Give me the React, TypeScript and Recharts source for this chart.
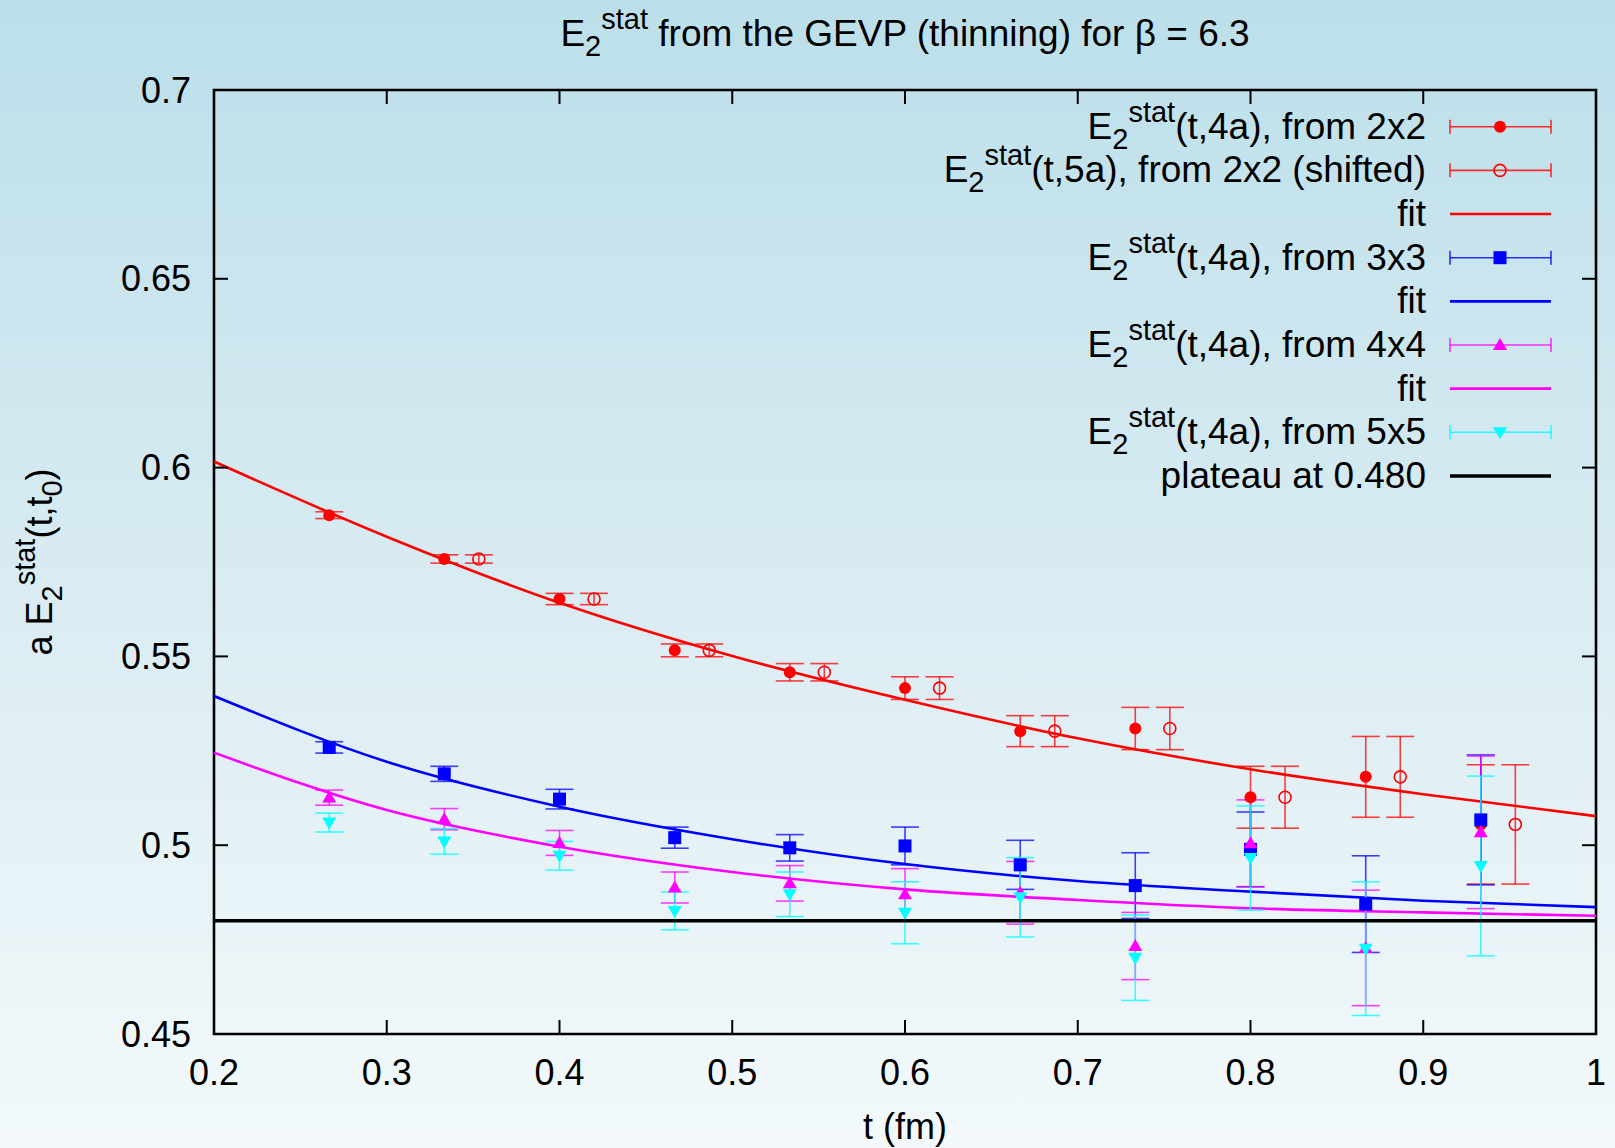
import React from "react";
import { ComposedChart, Scatter, Line, XAxis, YAxis, ErrorBar, ReferenceLine, ReferenceArea } from "recharts";

// t values (fm) for t = 4a ... 14a
const T = [0.2667, 0.3333, 0.4, 0.4667, 0.5333, 0.6, 0.6667, 0.7333, 0.8, 0.8667, 0.9333];

const E_2X2 = [0.5874, 0.5758, 0.5652, 0.5516, 0.5458, 0.5416, 0.5302, 0.5309, 0.5127, 0.5181, 0.5055];
const E_2X2_ERR = [0.0009, 0.0011, 0.0015, 0.0017, 0.0023, 0.003, 0.0041, 0.0056, 0.0082, 0.0107, 0.0158];

// t0 = 5a, drawn shifted by 0.02 fm
const T_SHIFT = [0.3533, 0.42, 0.4867, 0.5533, 0.62, 0.6867, 0.7533, 0.82, 0.8867, 0.9533];
const E_2X2_5A = [0.5758, 0.5652, 0.5516, 0.5458, 0.5416, 0.5302, 0.5309, 0.5127, 0.5181, 0.5055];
const E_2X2_5A_ERR = [0.0011, 0.0015, 0.0017, 0.0023, 0.003, 0.0041, 0.0056, 0.0082, 0.0107, 0.0158];

const E_3X3 = [0.5259, 0.5189, 0.5122, 0.502, 0.4993, 0.4998, 0.4948, 0.4893, 0.4989, 0.4844, 0.5067];
const E_3X3_ERR = [0.0015, 0.002, 0.0026, 0.0028, 0.0035, 0.005, 0.0065, 0.0087, 0.0099, 0.0128, 0.0172];

const E_4X4 = [0.5126, 0.5069, 0.5006, 0.4888, 0.4899, 0.487, 0.4874, 0.4733, 0.5005, 0.4728, 0.5034];
const E_4X4_ERR = [0.002, 0.0028, 0.0033, 0.0041, 0.0047, 0.0068, 0.0083, 0.0089, 0.0115, 0.0153, 0.0202];

const E_5X5 = [0.506, 0.501, 0.4972, 0.4826, 0.487, 0.4821, 0.4862, 0.4702, 0.4966, 0.4726, 0.4945];
const E_5X5_ERR = [0.0025, 0.0034, 0.0038, 0.005, 0.0059, 0.0082, 0.0105, 0.0113, 0.0138, 0.0177, 0.0238];

// fit curves, read at every 0.1 fm
const FIT_T = [0.2, 0.3, 0.4, 0.5, 0.6, 0.7, 0.8, 0.9, 1.0];
const FIT_2X2 = [0.6016, 0.5817, 0.5642, 0.5501, 0.5385, 0.5283, 0.5201, 0.5135, 0.5077];
const FIT_3X3 = [0.5395, 0.5221, 0.5102, 0.5016, 0.495, 0.4905, 0.4877, 0.4853, 0.4836];
const FIT_4X4 = [0.5245, 0.5093, 0.4996, 0.4929, 0.4883, 0.4855, 0.4833, 0.4822, 0.4813];

const PLATEAU = 0.48;

const X_TICKS = [0.2, 0.3, 0.4, 0.5, 0.6, 0.7, 0.8, 0.9, 1];
const Y_TICKS = [0.45, 0.5, 0.55, 0.6, 0.65, 0.7];

const W = 1615;
const H = 1148;
const LEFT = 214;
const RIGHT = 1596;
const TOP = 90;
const BOTTOM = 1034;
const YAXIS_W = 100;
const XAXIS_H = 60;
const FONT = "'Liberation Sans', Arial, Helvetica, sans-serif";

const pts = (ts: number[], vs: number[], es: number[]) => ts.map((t, i) => ({ t, v: vs[i], e: es[i] }));
const curve = (ts: number[], vs: number[]) => ts.map((t, i) => ({ t, v: vs[i] }));

const Dot = ({ cx, cy, color, open }: any) => (
  <circle cx={cx} cy={cy} r={6} fill={open ? "none" : color} stroke={color} strokeWidth={open ? 1.6 : 0} />
);
const Square = ({ cx, cy, color }: any) => <rect x={cx - 6.5} y={cy - 6.5} width={13} height={13} fill={color} />;
const TriUp = ({ cx, cy, color }: any) => (
  <polygon points={`${cx},${cy - 7} ${cx - 7},${cy + 5} ${cx + 7},${cy + 5}`} fill={color} />
);
const TriDown = ({ cx, cy, color }: any) => (
  <polygon points={`${cx},${cy + 7} ${cx - 7},${cy - 5} ${cx + 7},${cy - 5}`} fill={color} />
);

function XTick(props: any) {
  const { x, payload } = props;
  return (
    <g>
      <line x1={x} x2={x} y1={BOTTOM} y2={BOTTOM - 14} stroke="#000" strokeWidth={2} />
      <line x1={x} x2={x} y1={TOP} y2={TOP + 14} stroke="#000" strokeWidth={2} />
      <text x={x} y={1085} textAnchor="middle" fontSize={36} fontFamily={FONT} fill="#000">
        {String(payload.value)}
      </text>
    </g>
  );
}

function YTick(props: any) {
  const { y, payload } = props;
  return (
    <g>
      <line x1={LEFT} x2={LEFT + 14} y1={y} y2={y} stroke="#000" strokeWidth={2} />
      <line x1={RIGHT} x2={RIGHT - 14} y1={y} y2={y} stroke="#000" strokeWidth={2} />
      <text x={191} y={y + 12.5} textAnchor="end" fontSize={36} fontFamily={FONT} fill="#000">
        {String(payload.value)}
      </text>
    </g>
  );
}

// E_2^{stat} followed by the rest of a label
const Estat = ({ rest }: { rest: string }) => (
  <>
    E
    <tspan dy={10} fontSize={29}>2</tspan>
    <tspan dy={-27} fontSize={29}>stat</tspan>
    <tspan dy={17}>{rest}</tspan>
  </>
);

const LEGEND = [
  { label: <Estat rest="(t,4a), from 2x2" />, color: "#ff0000", kind: "dot" },
  { label: <Estat rest="(t,5a), from 2x2 (shifted)" />, color: "#ff0000", kind: "open" },
  { label: "fit", color: "#ff0000", kind: "line" },
  { label: <Estat rest="(t,4a), from 3x3" />, color: "#0000ff", kind: "square" },
  { label: "fit", color: "#0000ff", kind: "line" },
  { label: <Estat rest="(t,4a), from 4x4" />, color: "#ff00ff", kind: "up" },
  { label: "fit", color: "#ff00ff", kind: "line" },
  { label: <Estat rest="(t,4a), from 5x5" />, color: "#00ffff", kind: "down" },
  { label: "plateau at 0.480", color: "#000000", kind: "line" },
];

function LegendRow({ item, y }: any) {
  const x1 = 1450;
  const x2 = 1551;
  const cx = 1500;
  const isLine = item.kind === "line";
  const isPlateau = item.color === "#000000";
  return (
    <g>
      <text x={1426} y={y + 12} textAnchor="end" fontSize={37} fontFamily={FONT} fill="#000">
        {item.label}
      </text>
      <line x1={x1} x2={x2} y1={y} y2={y} stroke={item.color} strokeWidth={isPlateau ? 3.4 : isLine ? 2.6 : 1.6} strokeOpacity={isLine ? 1 : 0.8} />
      {!isLine && (
        <>
          <line x1={x1} x2={x1} y1={y - 7} y2={y + 7} stroke={item.color} strokeWidth={1.6} strokeOpacity={0.8} />
          <line x1={x2} x2={x2} y1={y - 7} y2={y + 7} stroke={item.color} strokeWidth={1.6} strokeOpacity={0.8} />
        </>
      )}
      {item.kind === "dot" && <Dot cx={cx} cy={y} color={item.color} />}
      {item.kind === "open" && <Dot cx={cx} cy={y} color={item.color} open />}
      {item.kind === "square" && <Square cx={cx} cy={y} color={item.color} />}
      {item.kind === "up" && <TriUp cx={cx} cy={y} color={item.color} />}
      {item.kind === "down" && <TriDown cx={cx} cy={y} color={item.color} />}
    </g>
  );
}

export default function App() {
  const errStyle = (c: string) => ({ stroke: c, strokeWidth: 1.6, strokeOpacity: 0.75 });
  return (
    <div
      style={{
        position: "absolute",
        left: 0,
        top: 0,
        width: W,
        height: H,
        background: "linear-gradient(to bottom, #bbdfea 0%, #d6eaf1 45%, #f3f9fb 100%)",
      }}
    >
      <ComposedChart
        width={W}
        height={H}
        margin={{ top: TOP, right: W - RIGHT, bottom: H - BOTTOM - XAXIS_H, left: LEFT - YAXIS_W }}
      >
        <XAxis
          type="number"
          dataKey="t"
          domain={[0.2, 1]}
          ticks={X_TICKS}
          interval={0}
          allowDataOverflow
          height={XAXIS_H}
          axisLine={false}
          tickLine={false}
          tick={<XTick />}
        />
        <YAxis
          type="number"
          dataKey="v"
          domain={[0.45, 0.7]}
          ticks={Y_TICKS}
          interval={0}
          allowDataOverflow
          width={YAXIS_W}
          axisLine={false}
          tickLine={false}
          tick={<YTick />}
        />
        <ReferenceArea x1={0.2} x2={1} y1={0.45} y2={0.7} fill="none" stroke="#000" strokeWidth={2.6} fillOpacity={0} />

        <Scatter data={pts(T, E_2X2, E_2X2_ERR)} isAnimationActive={false} shape={(p: any) => <Dot cx={p.cx} cy={p.cy} color="#ff0000" />}>
          <ErrorBar dataKey="e" direction="y" width={14} {...errStyle("#ff0000")} />
        </Scatter>
        <Scatter data={pts(T_SHIFT, E_2X2_5A, E_2X2_5A_ERR)} isAnimationActive={false} shape={(p: any) => <Dot cx={p.cx} cy={p.cy} color="#ff0000" open />}>
          <ErrorBar dataKey="e" direction="y" width={14} {...errStyle("#ff0000")} />
        </Scatter>
        <Line data={curve(FIT_T, FIT_2X2)} dataKey="v" type="monotone" stroke="#ff0000" strokeWidth={2.6} dot={false} activeDot={false} isAnimationActive={false} />

        <Scatter data={pts(T, E_3X3, E_3X3_ERR)} isAnimationActive={false} shape={(p: any) => <Square cx={p.cx} cy={p.cy} color="#0000ff" />}>
          <ErrorBar dataKey="e" direction="y" width={14} {...errStyle("#0000ff")} />
        </Scatter>
        <Line data={curve(FIT_T, FIT_3X3)} dataKey="v" type="monotone" stroke="#0000ff" strokeWidth={2.6} dot={false} activeDot={false} isAnimationActive={false} />

        <Scatter data={pts(T, E_4X4, E_4X4_ERR)} isAnimationActive={false} shape={(p: any) => <TriUp cx={p.cx} cy={p.cy} color="#ff00ff" />}>
          <ErrorBar dataKey="e" direction="y" width={14} {...errStyle("#ff00ff")} />
        </Scatter>
        <Line data={curve(FIT_T, FIT_4X4)} dataKey="v" type="monotone" stroke="#ff00ff" strokeWidth={2.6} dot={false} activeDot={false} isAnimationActive={false} />

        <Scatter data={pts(T, E_5X5, E_5X5_ERR)} isAnimationActive={false} shape={(p: any) => <TriDown cx={p.cx} cy={p.cy} color="#00ffff" />}>
          <ErrorBar dataKey="e" direction="y" width={14} {...errStyle("#00ffff")} />
        </Scatter>

        <ReferenceLine y={PLATEAU} stroke="#000" strokeWidth={3.4} />
      </ComposedChart>

      <svg width={W} height={H} style={{ position: "absolute", left: 0, top: 0, pointerEvents: "none" }}>
        <text x={905} y={46} textAnchor="middle" fontSize={37} fontFamily={FONT} fill="#000">
          <Estat rest=" from the GEVP (thinning) for β = 6.3" />
        </text>
        <text x={905} y={1139} textAnchor="middle" fontSize={36} fontFamily={FONT} fill="#000">
          t (fm)
        </text>
        <text transform="rotate(-90)" x={-562} y={52} textAnchor="middle" fontSize={36} fontFamily={FONT} fill="#000">
          a E
          <tspan dy={10} fontSize={29}>2</tspan>
          <tspan dy={-27} fontSize={29}>stat</tspan>
          <tspan dy={17}>(t,t</tspan>
          <tspan dy={10} fontSize={29}>0</tspan>
          <tspan dy={-10}>)</tspan>
        </text>
        {LEGEND.map((item, i) => (
          <LegendRow key={i} item={item} y={126.7 + i * 43.66} />
        ))}
      </svg>
    </div>
  );
}
